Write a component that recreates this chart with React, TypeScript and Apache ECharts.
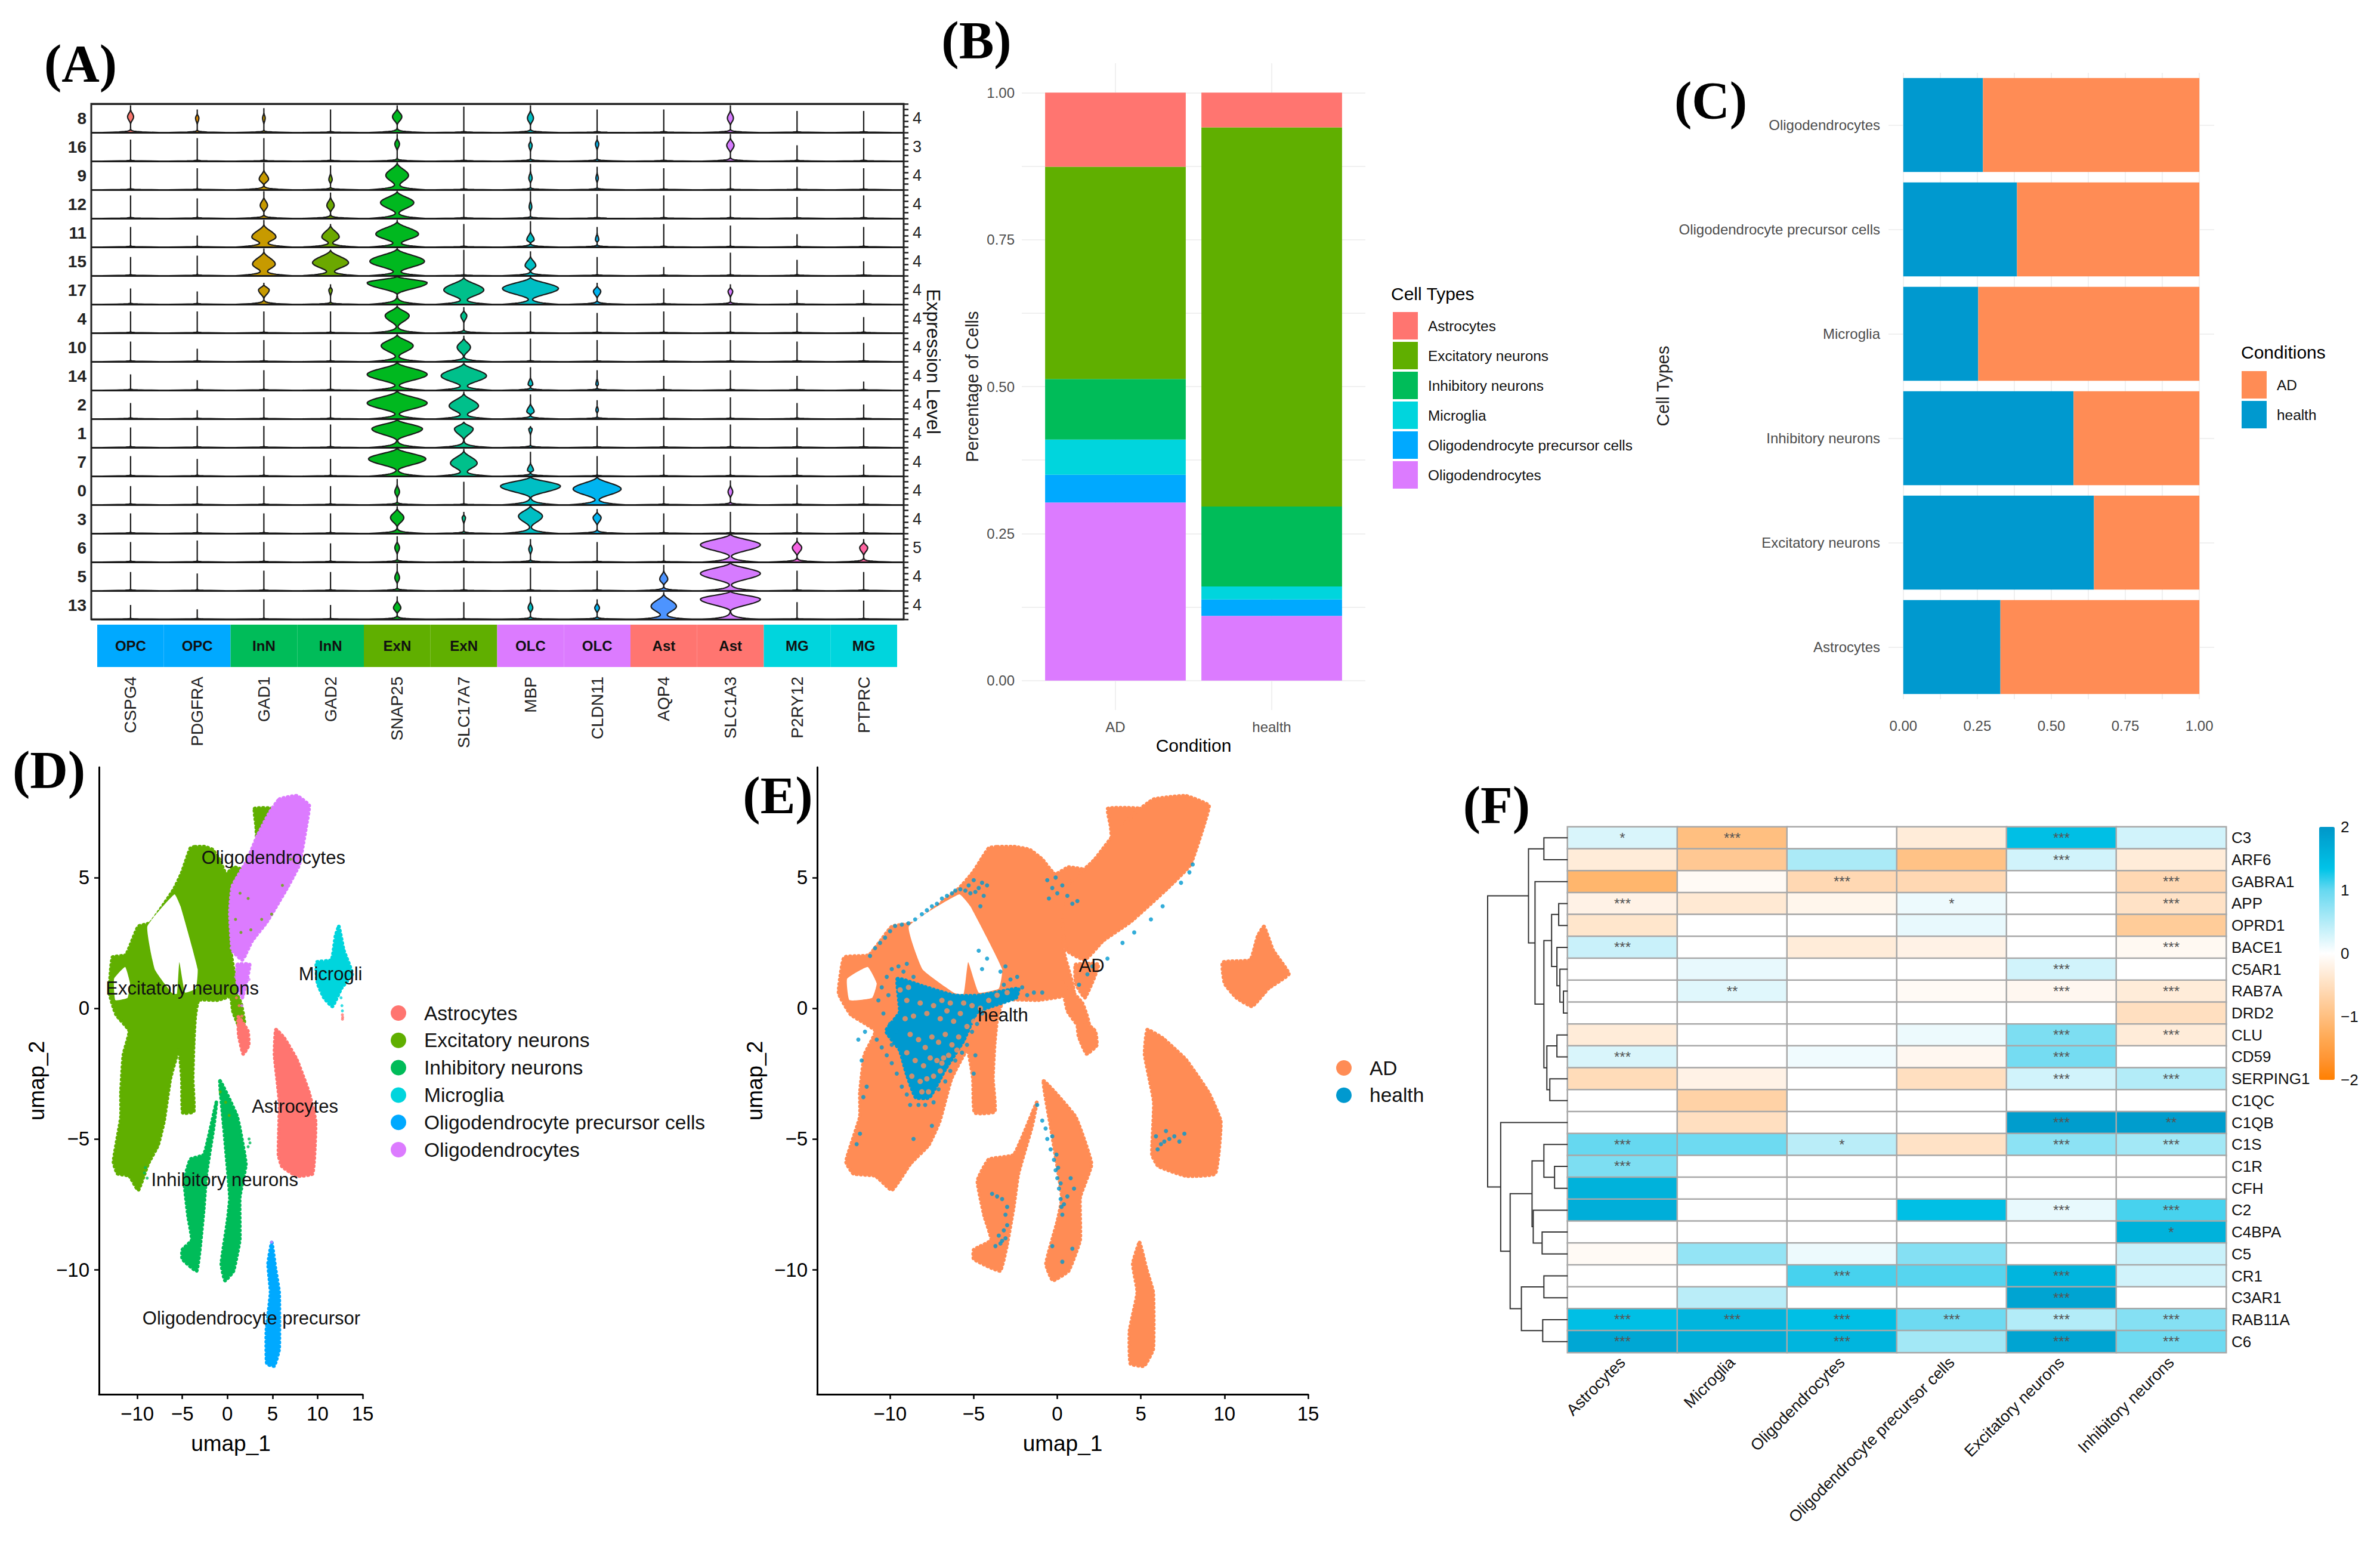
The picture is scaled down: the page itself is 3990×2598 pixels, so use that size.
import React, { useEffect, useRef } from 'react';
import * as echarts from 'echarts';

const SANS = '"Liberation Sans", Arial, sans-serif';
const SERIF = '"Liberation Serif", serif';

// ---------- Panel A ----------
const genes = ['CSPG4', 'PDGFRA', 'GAD1', 'GAD2', 'SNAP25', 'SLC17A7', 'MBP', 'CLDN11', 'AQP4', 'SLC1A3', 'P2RY12', 'PTPRC'];
const geneGroups = ['OPC', 'OPC', 'InN', 'InN', 'ExN', 'ExN', 'OLC', 'OLC', 'Ast', 'Ast', 'MG', 'MG'];
const groupColors: any = { OPC: '#00A9FF', InN: '#00BC59', ExN: '#60AF00', OLC: '#DC7BFF', Ast: '#FF7570', MG: '#00D5DD' };
const geneColors = ['#F8766D', '#DE8C00', '#C79A00', '#6BA800', '#00B81F', '#00C08B', '#00BFC4', '#00B4F0', '#4D94FF', '#D67BFF', '#F564E3', '#FF64A0'];
const clusterLabels = ['8', '16', '9', '12', '11', '15', '17', '4', '10', '14', '2', '1', '7', '0', '3', '6', '5', '13'];
const clusterMaxima = ['4', '3', '4', '4', '4', '4', '4', '4', '4', '4', '4', '4', '4', '4', '4', '5', '4', '4'];
const stemTops = [
  [.95, .8, .85, .8, .95, .9, .95, .8, .8, .95, .75, .75],
  [.75, .8, .8, .85, .95, .85, .85, .9, .85, .95, .55, .8],
  [.8, .75, .95, .85, .95, .8, .9, .8, .75, .8, .8, .75],
  [.8, .7, .95, .9, .95, .85, .95, .85, .8, .8, .75, .8],
  [.7, .4, .95, .8, .95, .8, .9, .7, .8, .75, .45, .7],
  [.65, .7, .95, .9, .95, .9, .85, .65, .3, .8, .55, .5],
  [.55, .45, .75, .7, .98, .95, .95, .75, .55, .7, .5, .5],
  [.75, .75, .75, .75, .95, .9, .75, .7, .75, .75, .7, .55],
  [.7, .45, .75, .75, .95, .9, .8, .75, .75, .75, .7, .65],
  [.55, .35, .7, .8, .98, .95, .8, .7, .5, .7, .5, .3],
  [.55, .3, .75, .8, .98, .95, .85, .65, .75, .75, .55, .5],
  [.7, .75, .75, .8, .98, .9, .75, .75, .75, .8, .7, .7],
  [.7, .6, .7, .6, .98, .95, .85, .7, .75, .7, .65, .4],
  [.65, .65, .65, .65, .9, .8, .98, .98, .65, .85, .7, .65],
  [.7, .7, .7, .7, .95, .75, .98, .85, .7, .75, .7, .7],
  [.7, .75, .7, .65, .9, .8, .8, .7, .6, .98, .85, .8],
  [.65, .6, .7, .65, .95, .8, .8, .7, .9, .98, .7, .65],
  [.5, .35, .7, .5, .8, .6, .8, .7, .95, .98, .6, .65],
];
// [cluster row, gene index, bulge half-width in % of a gene band, bulge position in the row]
const violinBulges = [
  [0, 0, 4.5, .55], [0, 1, 2.5, .5], [0, 2, 2, .5], [0, 4, 7, .55], [0, 6, 4.5, .5], [0, 9, 4.5, .5],
  [1, 4, 3.5, .6], [1, 6, 2.5, .55], [1, 7, 2.5, .6], [1, 9, 5.5, .55],
  [2, 2, 7, .37], [2, 3, 2.5, .35], [2, 4, 17, .5], [2, 6, 2.5, .4], [2, 7, 1.8, .4],
  [3, 2, 5.5, .45], [3, 3, 5.5, .45], [3, 4, 25, .55], [3, 6, 2, .4],
  [4, 2, 18, .35], [4, 3, 13, .35], [4, 4, 32, .45], [4, 6, 5.5, .25], [4, 7, 2.5, .25],
  [5, 2, 17, .4], [5, 3, 27, .45], [5, 4, 41, .5], [5, 6, 8, .35],
  [6, 2, 8, .5], [6, 3, 2.5, .5], [6, 4, 45, .75], [6, 5, 30, .5], [6, 6, 42, .55], [6, 7, 5.5, .45], [6, 9, 3.5, .45],
  [7, 4, 18, .6], [7, 5, 4.5, .6],
  [8, 4, 24, .55], [8, 5, 10, .5],
  [9, 4, 45, .55], [9, 5, 34, .5], [9, 6, 3.5, .2], [9, 7, 1.8, .2],
  [10, 4, 45, .55], [10, 5, 22, .45], [10, 6, 5.5, .25], [10, 7, 1.8, .3],
  [11, 4, 38, .65], [11, 5, 14, .65], [11, 6, 2.5, .65],
  [12, 4, 43, .6], [12, 5, 20, .45], [12, 6, 4.5, .2],
  [13, 4, 3.5, .45], [13, 6, 45, .65], [13, 7, 36, .55], [13, 9, 3.5, .45],
  [14, 4, 10, .55], [14, 5, 2.5, .55], [14, 6, 18, .6], [14, 7, 6, .55],
  [15, 4, 3.5, .5], [15, 6, 2.5, .45], [15, 9, 45, .6], [15, 10, 7, .5], [15, 11, 6, .5],
  [16, 4, 3.5, .45], [16, 8, 6, .4], [16, 9, 45, .6],
  [17, 4, 5.5, .4], [17, 6, 3.5, .4], [17, 7, 3.5, .4], [17, 8, 19, .45], [17, 9, 45, .7],
];

// ---------- Panel B ----------
const conditionsB = ['AD', 'health'];
const oligodendrocyteShare = [.303, .110];
const opcShare = [.047, .028];
const microgliaShare = [.060, .022];
const inhibitoryShare = [.103, .136];
const excitatoryShare = [.361, .645];
const astrocyteShare = [.126, .059];
const cellTypeNames = ['Astrocytes', 'Excitatory neurons', 'Inhibitory neurons', 'Microglia', 'Oligodendrocyte precursor cells', 'Oligodendrocytes'];
const cellTypeColors = ['#FF7570', '#60AF00', '#00BC59', '#00D5DD', '#00A9FF', '#DC7BFF'];

// ---------- Panel C ----------
const cellTypesC = ['Astrocytes', 'Excitatory neurons', 'Inhibitory neurons', 'Microglia', 'Oligodendrocyte precursor cells', 'Oligodendrocytes'];
const healthFraction = [.328, .644, .575, .253, .384, .269];
const adFraction = [.672, .356, .425, .747, .616, .731];
const AD_COLOR = '#FF8C55';
const HEALTH_COLOR = '#0099CF';

// ---------- Panels D and E: cluster outlines read in UMAP coordinates ----------
const excitatoryOutlines = [
  [[-3.57, 6.18], [-2.5, 6.18], [-1.65, 6.07], [-.9, 5.7], [-.14, 5.13], [.68, 5.4], [2.18, 5.22], [.99, 4.67], [.27, 3.49], [.44, 2.04], [.99, .58], [-1.1, .31], [-3.19, .31], [-3.57, -.33], [-3.74, -1.33], [-3.85, -2.69], [-3.74, -3.96], [-4.95, -4], [-5.05, -2.69], [-5.38, -1.6], [-6.32, -2.69], [-7.03, -4.33], [-7.69, -5.24], [-8.79, -5.96], [-9.89, -6.96], [-10.88, -6.42], [-12.2, -6.33], [-12.64, -5.87], [-11.81, -4.15], [-11.81, -3.24], [-11.54, -1.78], [-10.88, -.87], [-12.36, -.24], [-13.08, .58], [-12.75, 1.95], [-11.26, 2.04], [-9.89, 3.13], [-8.52, 3.27], [-5.93, 4.56], [-5.05, 5.2], [-4.1, 6.13]],
  [[.3, 1], [1.5, .2], [1.9, -.6], [1.3, -.7], [.6, -.1]],
  [[3.02, 7.64], [4.95, 7.64], [4.67, 7.22], [3.3, 6.4], [3.19, 6.95]],
];
const outlineHoles = [
  [[-8.88, 3.13], [-5.87, 4.36], [-5.2, 3.9], [-3.3, 1.5], [-3.5, .75], [-4.7, .6], [-5.33, 1.76], [-5.6, .55], [-6.15, .58], [-8.06, 1.49]],
  [[-12.57, 1.13], [-11.34, 1.58], [-10.8, .95], [-11.07, .4], [-12.43, .31]],
];
const oligodendrocyteOutlines = [
  [[5.77, 8], [7.69, 8.13], [9.07, 7.76], [8.79, 7.04], [7.97, 5.49], [6.59, 4.58], [4.4, 3.31], [2.75, 2.58], [1.65, 1.85], [.55, 2.22], [.27, 3.67], [.55, 4.67], [2.2, 5.67], [3.3, 6.58], [4.67, 7.49]],
  [[1.1, 1.67], [2.47, 1.67], [1.65, .4], [1.1, .95]],
];
const microgliaOutlines = [
  [[12.36, 3.13], [12.91, 2.22], [13.85, 1.31], [12.64, .76], [11.65, .07], [10.71, .4], [10, .95], [9.89, 1.76], [11.54, 1.85], [11.98, 2.76]],
];
const astrocyteOutlines = [
  [[5.38, -.82], [6.32, -1.15], [7.69, -1.96], [9.07, -3.24], [9.78, -4.33], [9.45, -6.33], [7.69, -6.42], [6.04, -6.05], [5.66, -5.6], [5.77, -3.6], [5.22, -1.78]],
  [[1.21, -.33], [2.27, -.87], [2.36, -1.42], [1.75, -1.75], [1.26, -1.05]],
];
const inhibitoryOutlines = [
  [[-.82, -2.78], [1.09, -4.15], [2.05, -5.96], [1.37, -7.24], [1.37, -8.87], [.68, -10.05], [-.27, -10.42], [-.68, -9.78], [0, -8.15], [.27, -7.24], [-.41, -4.5]],
  [[-1.23, -3.6], [-2.6, -5.6], [-4.1, -5.78], [-4.78, -6.6], [-4.37, -7.96], [-3.96, -8.87], [-5, -9.24], [-5, -9.6], [-3.42, -10.05], [-3, -9.05], [-2.6, -7.6], [-2.32, -6.33], [-1.5, -4.5]],
];
const opcOutlines = [
  [[4.92, -8.96], [5.33, -9.96], [5.74, -10.87], [5.74, -13.05], [5.19, -13.69], [4.37, -13.6], [4.32, -12.33], [4.78, -10.87], [4.51, -9.78]],
];
const healthCloudOutlines = [
  [[-9.56, 1.13], [-8.06, .85], [-6.15, .49], [-4.64, .49], [-2.32, .76], [-2.46, .4], [-4.78, -.15], [-5.6, -1.24], [-6.69, -2.33], [-7.65, -3.42], [-8.47, -3.42], [-9.02, -2.51], [-9.43, -1.6], [-10.25, -.87], [-9.43, -.15]],
];
const healthPoints = [
  [-11.2, 2], [-10.9, 2.3], [-10.6, 2.5], [-10.3, 2.7], [-10, 2.95], [-9.7, 3.15], [-9.3, 3.2], [-8.9, 3.25], [-8.5, 3.4], [-8.1, 3.6], [-7.8, 3.75], [-7.5, 3.9], [-7.2, 4], [-6.9, 4.2], [-6.6, 4.3], [-6.3, 4.4], [-6.1, 4.5], [-5.8, 4.55], [-5.5, 4.5], [-5.2, 4.4], [-4.9, 4.45], [-4.5, 4.8],
  [-1.2, -3.7], [-.9, -4.3], [-.7, -4.6], [-.6, -5], [-.4, -5.4], [-.2, -5.8], [-.1, -6.2], [0, -6.5], [.1, -6.9], [.2, -7.3], [.25, -7.6], [.3, -7.9], [-.3, -4.9], [-.05, -5.6], [.05, -6.1], [.2, -6.7], [.4, -7.5],
  [-3.2, -8.5], [-3.1, -8.8], [-3.3, -8.9], [-3.4, -9], [-3.5, -8.7], [-3, -8.3], [-3.7, -9.1], [-3.9, -7.1], [-3.6, -7.2], [-3.3, -7.3], [-3, -7.6], [-3.1, -7.9],
  [5.9, -4.9], [6.2, -5.2], [6.4, -5.1], [6.7, -5], [7, -4.9], [7.3, -5.1], [7.6, -4.8], [6, -5.4], [6.5, -4.7],
  [-.6, 4.9], [-.3, 4.6], [0, 4.4], [.3, 4.7], [-.5, 4.2], [.6, 4.3], [-.1, 5], [.9, 4], [1.2, 4.1],
  [-5, 4.9], [-4.7, 4.6], [-4.4, 4.3], [-4.2, 4.7], [-5.3, 4.7], [-4.6, 3.9],
  [7.9, 5.2], [8.1, 5.5], [7.4, 4.8], [6.3, 3.9], [5.6, 3.4], [4.6, 2.9], [3.9, 2.5], [3, 1.9], [2.1, 1.6], [1.8, 1.3], [1.3, .9],
  [-3.2, .9], [-2.8, 1.1], [-2.4, 1.2], [-2.1, .8], [-3, .4], [-2.6, .6], [-1.8, .5], [-1.4, .6], [-.9, .6], [-3.4, 1.4], [-3.1, 1.6], [-4.2, 1.9], [-4.7, 2.2], [-4.5, 1.5],
  [-11.7, -2], [-11.4, -3], [-11.6, -3.4], [-12, -5.2], [-11.8, -4.8], [-11.9, -1.2], [-11.5, -.9], [-8.6, -5], [-7.5, -4.5], [.8, -6.5], [1, -6.9], [.6, -7.2], [-.3, -9.1], [.3, -9.7], [.9, -9.2],
  [-10.7, .3], [-10.4, -.2], [-10.5, .8], [-10.1, .5], [-10.2, 1.2], [-9.9, 1.5], [-9.5, 1.6], [-9.2, 1.4], [-9, 1.7], [-8.6, 1.2], [-10.8, -1.2], [-10.5, -1.5], [-10.2, -1.8], [-9.9, -1.4], [-9.9, -2.1], [-9.6, -2.5], [-9.3, -3], [-9, -3.3], [-8.8, -3.7], [-8.3, -3.7], [-7.9, -3.7], [-7.4, -3.6], [-7.1, -3.1], [-6.7, -2.8], [-6.4, -2.4], [-6.1, -2], [-5.7, -1.7], [-5.4, -1.4], [-5.1, -.9], [-4.8, -.6], [-4.5, -.2], [-4.2, .1], [-9.6, -.9], [-10, -.6], [-4.9, -1.8], [-5, -2.5],
];
const adSpecksInCloud = [
  [-9, .3], [-8.6, -.3], [-8.2, .2], [-7.8, -.2], [-7.4, .1], [-7, -.4], [-6.6, -.1], [-6.2, -.5], [-5.8, -.2], [-5.4, -.7], [-5, -.5], [-8.8, -1], [-8.3, -1.2], [-7.9, -1.5], [-7.5, -1.1], [-7.1, -1.3], [-6.7, -1], [-6.3, -1.4], [-5.9, -1.1], [-8.5, -2], [-8, -2.2], [-7.6, -1.9], [-7.2, -2], [-6.8, -1.9], [-8.2, -2.8], [-7.8, -2.7], [-7.4, -2.6], [-7, -2.4],
  [-9.4, .7], [-8.9, .8], [-6.9, .3], [-6.4, .2], [-5.6, .2], [-5.1, .1], [-4.6, 0], [-9.1, -.4], [-9, -1.7], [-8.7, -2.6], [-8.1, -3.2], [-7.7, -3.2], [-6.9, -2.1], [-6.5, -1.8], [-6, -1.6], [-4.1, .3], [-3.6, .5], [-3, .6],
];
const microgliaTailPoints = [[12.6, .4], [12.7, .1], [12.75, -.1]];
const astrocyteStrayPoints = [[12.75, -.25], [12.78, -.35], [12.76, -.42], [1.3, .1], [1, .4], [1.6, -.3]];
const oligodendrocyteStrayPoints = [[1.1, .6], [1.6, .1], [2.4, 1.1], [.9, 1.2], [1.3, 1.4], [2, 2], [4.9, -8.95], [.4, 2.3]];
const excitatoryStrayPoints = [[1.5, 2.9], [2.6, 3], [3.8, 3.4], [4.9, 3.6], [6.1, 4.7], [.9, 3.4], [1.4, 4.4], [2.3, 4.2], [7, 5.7], [-.8, -3.2], [.2, -4.1], [-.2, -3.6]];
const inhibitoryStrayPoints = [[2.4, -5], [2.5, -5.15], [2.3, -5.3], [-9.1, -6.1], [-9.2, -6.3], [-8.9, -6.5]];
const clusterLabelsD = [['Oligodendrocytes', 5.1, 5.76], ['Excitatory neurons', -5, .76], ['Microglia', 12, 1.31], ['Astrocytes', 7.5, -3.75], ['Inhibitory neurons', -.3, -6.56], ['Oligodendrocyte precursor cells', 5, -11.87]];
const conditionLabelsE = [['AD', 2.05, 1.62], ['health', -3.25, -.27]];
const umapXTicks = [-10, -5, 0, 5, 10, 15];
const umapYTicks = [-10, -5, 0, 5];

// ---------- Panel F ----------
const heatGenes = ['C3', 'ARF6', 'GABRA1', 'APP', 'OPRD1', 'BACE1', 'C5AR1', 'RAB7A', 'DRD2', 'CLU', 'CD59', 'SERPING1', 'C1QC', 'C1QB', 'C1S', 'C1R', 'CFH', 'C2', 'C4BPA', 'C5', 'CR1', 'C3AR1', 'RAB11A', 'C6'];
const heatCells = ['Astrocytes', 'Microglia', 'Oligodendrocytes', 'Oligodendrocyte precursor cells', 'Excitatory neurons', 'Inhibitory neurons'];
const heatValues = [
  [.25, -1, 0, -.3, 1.4, .3], [-.3, -.85, .55, -.95, .3, -.3], [-1.15, -.08, -.6, -.6, 0, -.6], [-.2, -.35, -.15, .12, 0, -.45],
  [-.4, 0, 0, .15, 0, -.8], [.35, 0, -.3, -.2, 0, -.1], [0, .15, 0, 0, .3, 0], [0, .2, 0, -.08, -.12, -.3],
  [0, 0, 0, 0, 0, -.5], [-.3, 0, 0, .12, .85, -.3], [.25, 0, .1, -.12, .9, 0], [-.55, -.2, 0, -.5, .3, .5],
  [0, -.7, 0, 0, 0, 0], [0, -.5, 0, 0, 1.9, 1.9], [1, .95, .45, -.45, .75, .6], [.85, 0, 0, 0, 0, 0],
  [1.6, 0, 0, 0, 0, 0], [1.65, 0, 0, 1.4, .15, 1.1], [0, 0, 0, 0, 0, 1.6], [-.08, .7, .12, .8, 0, .35],
  [0, 0, 1.1, 1.05, 1.55, .3], [0, .45, 0, 0, 1.8, 0], [1.4, 1.55, 1.4, .95, .5, .8], [1.75, 1.65, 1.55, .6, 1.8, .95],
];
const heatStars = [
  ['*', '***', '', '', '***', ''], ['', '', '', '', '***', ''], ['', '', '***', '', '', '***'], ['***', '', '', '*', '', '***'],
  ['', '', '', '', '', ''], ['***', '', '', '', '', '***'], ['', '', '', '', '***', ''], ['', '**', '', '', '***', '***'],
  ['', '', '', '', '', ''], ['', '', '', '', '***', '***'], ['***', '', '', '', '***', ''], ['', '', '', '', '***', '***'],
  ['', '', '', '', '', ''], ['', '', '', '', '***', '**'], ['***', '', '*', '', '***', '***'], ['***', '', '', '', '', ''],
  ['', '', '', '', '', ''], ['', '', '', '', '***', '***'], ['', '', '', '', '', '*'], ['', '', '', '', '', ''],
  ['', '', '***', '', '***', ''], ['', '', '', '', '***', ''], ['***', '***', '***', '***', '***', '***'], ['***', '', '***', '', '***', '***'],
];
// [left child, right child, height]; a child >= 100 is the earlier merge number (child - 100)
const dendrogramMerges = [
  [3, 4, 15], [7, 8, 7], [6, 101, 13], [5, 102, 18], [100, 103, 27], [9, 10, 18], [11, 12, 30], [105, 106, 35], [104, 107, 40], [2, 108, 55], [0, 1, 40], [110, 109, 66],
  [15, 16, 22], [14, 112, 40], [18, 19, 43], [17, 114, 58], [113, 115, 60], [20, 21, 40], [22, 23, 42], [117, 118, 78], [116, 119, 97], [13, 120, 113], [111, 121, 135],
];
const colorBarStops = ['#FF7F00', '#FF9533', '#FFAA55', '#FFBF80', '#FFD4AA', '#FFEAD5', '#FFFFFF', '#CCF2FA', '#99E5F5', '#66D8F0', '#00C4E8', '#00ADD8', '#0096C8'];
const panelLetters = [['(A)', 135, 106], ['(B)', 1637, 67], ['(C)', 2868, 168], ['(D)', 82, 1290], ['(E)', 1304, 1333], ['(F)', 2509, 1349]];

const GRID_TEXT = '#4D4D4D';
const GRID_LINE = '#F0F0F0';
const eighths = [0, .125, .25, .375, .5, .625, .75, .875, 1];
const quarters = [0, .25, .5, .75, 1];
const minus = (v: number) => String(v).replace('-', '\u2212');

const violinItem = (params: any, api: any) => {
  const gene = api.value(0), row = api.value(1), top = api.value(2), bulge = api.value(3) / 100, at = api.value(4);
  const c = api.coord([gene, row]);
  const s = api.size([1, 1]);
  const bottom = c[1] + s[1] / 2;
  const left: number[][] = [], right: number[][] = [];
  const steps = [0, .01, .02, .035, .05, .065, .08, .1, .125, .15, .175, .2, .225, .25, .275, .3, .325, .35, .375, .4, .425, .45, .475, .5, .525, .55, .575, .6, .625, .65, .675, .7, .725, .75, .775, .8, .825, .85, .875, .9, .925, .95, .975, 1];
  const scale = Math.min(1, .5 + bulge / .3);
  const up = Math.min(.45, top - at) * scale;
  const down = Math.min(.42, at - .07) * scale;
  const flareH = .008 + Math.min(.05, bulge * .3);
  for (const k of steps) {
    const t = k * top;
    let body = 0;
    if (bulge) {
      const span = t > at ? up : down;
      const d = Math.abs(t - at) / span;
      if (d < 1) {
        const q = Math.cos(d * Math.PI / 2);
        body = bulge * q * q;
      }
    }
    const w = s[0] * (.42 * Math.exp(-t / flareH) + body);
    const y = bottom - t * s[1];
    left.push([c[0] - w, y]);
    right.unshift([c[0] + w, y]);
  }
  return { type: 'polygon', shape: { points: left.concat(right) }, style: { fill: geneColors[gene], stroke: '#1a1a1a', lineWidth: 2.2 } };
};

const polygonSeries = (name: string, polys: number[][][], color: string, xi: number, dotted = true) => ({
  type: 'custom', name, coordinateSystem: 'cartesian2d', xAxisIndex: xi, yAxisIndex: xi, silent: true,
  itemStyle: { color },
  data: polys.map((p, i) => [p[0][0], p[0][1], i]),
  renderItem: (params: any, api: any) => ({
    type: 'polygon',
    shape: { points: polys[api.value(2)].map((q) => api.coord(q)), smooth: .12 },
    style: dotted ? { fill: color, stroke: color, lineWidth: 6, lineDash: [1, 6], lineCap: 'round' } : { fill: color },
  }),
});

const dotSeries = (name: string, pts: number[][], color: string, xi: number, size = 5) => ({
  type: 'scatter', name, xAxisIndex: xi, yAxisIndex: xi, symbolSize: size, silent: true,
  itemStyle: { color }, data: pts,
});

const textSeries = (labels: any[], xi: number) => ({
  type: 'custom', name: 'labels', coordinateSystem: 'cartesian2d', xAxisIndex: xi, yAxisIndex: xi, silent: true, z: 20,
  data: labels.map((l, i) => [l[1], l[2], i]),
  renderItem: (params: any, api: any) => {
    const p = api.coord([api.value(0), api.value(1)]);
    const cs = params.coordSys;
    return {
      type: 'text', x: p[0], y: p[1],
      style: { text: labels[api.value(2)][0], align: 'center', verticalAlign: 'middle', textAlign: 'center', textVerticalAlign: 'middle', fontSize: 31, fontFamily: SANS, fill: '#111' },
      clipPath: { type: 'rect', shape: { x: cs.x - p[0], y: cs.y - p[1], width: cs.width, height: cs.height } },
    };
  },
});

const umapX = (gi: number, min: number) => ({
  type: 'value', gridIndex: gi, min, max: 15, name: 'umap_1', nameLocation: 'middle', nameGap: 64,
  nameTextStyle: { fontFamily: SANS, fontSize: 37, color: '#000' },
  axisLine: { onZero: false, lineStyle: { color: '#000', width: 3 } },
  axisTick: { customValues: umapXTicks, length: 8, lineStyle: { color: '#000', width: 2.5 } },
  axisLabel: { customValues: umapXTicks, formatter: minus, margin: 16, fontFamily: SANS, fontSize: 33, color: '#000' },
  splitLine: { show: false },
});
const umapY = (gi: number) => ({
  type: 'value', gridIndex: gi, min: -14.77, max: 9.22, name: 'umap_2', nameLocation: 'middle', nameGap: 86,
  nameTextStyle: { fontFamily: SANS, fontSize: 37, color: '#000' },
  axisLine: { onZero: false, lineStyle: { color: '#000', width: 3 } },
  axisTick: { customValues: umapYTicks, length: 8, lineStyle: { color: '#000', width: 2.5 } },
  axisLabel: { customValues: umapYTicks, formatter: minus, margin: 16, fontFamily: SANS, fontSize: 33, color: '#000' },
  splitLine: { show: false },
});

function buildOption() {
  const grids: any[] = [
    { left: 153, top: 174, width: 1362, height: 864, show: true, borderColor: '#222', borderWidth: 3 }, // 0 violin
    { left: 163, top: 1047, width: 1341, height: 71 }, // 1 strip
    { left: 1713, top: 106, width: 576, height: 1084 }, // 2 B back
    { left: 1739, top: 106, width: 524, height: 1084 }, // 3 B bars
    { left: 3166, top: 122, width: 546, height: 1050 }, // 4 C
    { left: 166, top: 1286, width: 442, height: 1051 }, // 5 D
    { left: 1370, top: 1286, width: 823, height: 1051 }, // 6 E
    { left: 2628, top: 1386, width: 1104, height: 881 }, // 7 heat
    { left: 2494, top: 1386, width: 134, height: 881 }, // 8 dendrogram
    { left: 3914, top: 1386, width: 2, height: 424 }, // 9 colour bar axis
  ];
  const hiddenValueX = (gi: number, min: number, max: number, inverse = false) => ({ type: 'value', gridIndex: gi, min, max, inverse, show: false });

  const xAxis: any[] = [
    hiddenValueX(0, -.59, 11.6),
    {
      type: 'category', gridIndex: 1, data: genes, axisLine: { show: false }, axisTick: { show: false },
      axisLabel: { interval: 0, rotate: 90, margin: 16, fontFamily: SANS, fontSize: 28, color: '#222' },
    },
    hiddenValueX(2, 0, 1),
    {
      type: 'category', gridIndex: 3, data: conditionsB, name: 'Condition', nameLocation: 'middle', nameGap: 44,
      nameTextStyle: { fontFamily: SANS, fontSize: 30, color: '#000' },
      axisLine: { show: false }, axisTick: { show: false, alignWithLabel: true },
      axisLabel: { margin: 16, fontFamily: SANS, fontSize: 24, color: GRID_TEXT },
      splitLine: { show: true, alignWithLabel: true, lineStyle: { color: GRID_LINE, width: 2 } },
    },
    {
      type: 'value', gridIndex: 4, min: -.05, max: 1.05,
      axisLine: { show: false }, axisTick: { show: false, customValues: eighths },
      axisLabel: { customValues: quarters, formatter: (v: number) => v.toFixed(2), margin: 32, fontFamily: SANS, fontSize: 24, color: GRID_TEXT },
      splitLine: { show: true, lineStyle: { color: GRID_LINE, width: 2 } },
    },
    umapX(5, -14.24), umapX(6, -14.36),
    {
      type: 'category', gridIndex: 7, data: heatCells, axisLine: { show: false }, axisTick: { show: false },
      axisLabel: { interval: 0, rotate: 45, margin: 12, fontFamily: SANS, fontSize: 27, color: '#111' }, splitLine: { show: false },
    },
    hiddenValueX(8, 0, 135, true),
    hiddenValueX(9, 0, 1),
  ];
  const yAxis: any[] = [
    {
      type: 'category', gridIndex: 0, data: clusterLabels, inverse: true, axisLine: { show: false }, axisTick: { show: false },
      axisLabel: { interval: 0, margin: 8, fontFamily: SANS, fontWeight: 'bold', fontSize: 28, color: '#222' },
      splitLine: { show: true, interval: 0, lineStyle: { color: '#222', width: 3 } },
    },
    { type: 'value', gridIndex: 1, min: 0, max: 1, show: false },
    {
      type: 'value', gridIndex: 2, min: -.05, max: 1.05, name: 'Percentage of Cells', nameLocation: 'middle', nameGap: 69,
      nameTextStyle: { fontFamily: SANS, fontSize: 29, color: '#222' },
      axisLine: { show: false }, axisTick: { show: false, customValues: eighths },
      axisLabel: { customValues: quarters, formatter: (v: number) => v.toFixed(2), margin: 12, fontFamily: SANS, fontSize: 24, color: GRID_TEXT },
      splitLine: { show: true, lineStyle: { color: GRID_LINE, width: 2 } },
    },
    { type: 'value', gridIndex: 3, min: -.05, max: 1.05, show: false },
    {
      type: 'category', gridIndex: 4, data: cellTypesC, name: 'Cell Types', nameLocation: 'middle', nameGap: 364,
      nameTextStyle: { fontFamily: SANS, fontSize: 29, color: '#222' },
      axisLine: { show: false }, axisTick: { show: false, alignWithLabel: true },
      axisLabel: { interval: 0, margin: 14, fontFamily: SANS, fontSize: 24, color: GRID_TEXT },
      splitLine: { show: true, alignWithLabel: true, lineStyle: { color: GRID_LINE, width: 2 } },
    },
    umapY(5), umapY(6),
    {
      type: 'category', gridIndex: 7, data: heatGenes, inverse: true, position: 'right', axisLine: { show: false }, axisTick: { show: false },
      axisLabel: { interval: 0, margin: 9, fontFamily: SANS, fontSize: 26, color: '#111' }, splitLine: { show: false },
    },
    { type: 'value', gridIndex: 8, min: 0, max: 24, inverse: true, show: false },
    {
      type: 'value', gridIndex: 9, min: -2, max: 2, interval: 1, position: 'right', axisLine: { show: false }, axisTick: { show: false },
      axisLabel: { margin: 8, formatter: minus, fontFamily: SANS, fontSize: 26, color: '#111' }, splitLine: { show: false },
    },
    {
      type: 'category', gridIndex: 0, data: clusterMaxima, inverse: true, position: 'right', axisLine: { show: false }, axisTick: { show: false },
      name: 'Expression Level', nameLocation: 'middle', nameRotate: -90, nameGap: 31,
      nameTextStyle: { fontFamily: SANS, fontSize: 32, color: '#111' },
      axisLabel: { interval: 0, margin: 15, padding: [0, 0, 30, 0], fontFamily: SANS, fontSize: 27, color: '#222' }, splitLine: { show: false },
    },
    {
      type: 'value', gridIndex: 0, min: 0, max: 90, interval: 1, position: 'right', axisLine: { show: false }, axisLabel: { show: false }, splitLine: { show: false },
      axisTick: { show: true, length: 8, lineStyle: { color: '#222', width: 2.5 } },
    },
  ];

  const series: any[] = [];
  // A
  const violinData: number[][] = [];
  stemTops.forEach((row, r) => row.forEach((top, g) => {
    const b = violinBulges.find((v) => v[0] === r && v[1] === g);
    violinData.push([g, r, top, b ? b[2] : 0, b ? b[3] : 0]);
  }));
  series.push({ type: 'custom', name: 'violins', coordinateSystem: 'cartesian2d', xAxisIndex: 0, yAxisIndex: 0, silent: true, encode: { x: 0, y: 1 }, data: violinData, renderItem: violinItem, clip: true });
  series.push({
    type: 'bar', name: 'markers', xAxisIndex: 1, yAxisIndex: 1, barWidth: '100%', silent: true,
    data: geneGroups.map((g) => ({ value: 1, name: g, itemStyle: { color: groupColors[g] } })),
    label: { show: true, position: 'inside', formatter: (p: any) => p.name, fontFamily: SANS, fontWeight: 'bold', fontSize: 24, color: '#111' },
  });
  // B
  const bStack: [string, number[], string][] = [
    ['Oligodendrocytes', oligodendrocyteShare, cellTypeColors[5]],
    ['Oligodendrocyte precursor cells', opcShare, cellTypeColors[4]],
    ['Microglia', microgliaShare, cellTypeColors[3]],
    ['Inhibitory neurons', inhibitoryShare, cellTypeColors[2]],
    ['Excitatory neurons', excitatoryShare, cellTypeColors[1]],
    ['Astrocytes', astrocyteShare, cellTypeColors[0]],
  ];
  bStack.forEach(([name, values, color]) => series.push({
    type: 'bar', name, xAxisIndex: 3, yAxisIndex: 3, stack: 'share', barWidth: '90%', silent: true, itemStyle: { color }, data: values,
  }));
  // C
  series.push({ type: 'bar', name: 'health', xAxisIndex: 4, yAxisIndex: 4, stack: 'cond', barWidth: '90%', silent: true, itemStyle: { color: HEALTH_COLOR }, data: healthFraction });
  series.push({ type: 'bar', name: 'AD', xAxisIndex: 4, yAxisIndex: 4, stack: 'cond', barWidth: '90%', silent: true, itemStyle: { color: AD_COLOR }, data: adFraction });
  // D
  series.push(polygonSeries('Excitatory neurons', excitatoryOutlines, cellTypeColors[1], 5));
  series.push(polygonSeries('holes', outlineHoles, '#fff', 5, false));
  series.push(polygonSeries('Astrocytes', astrocyteOutlines, cellTypeColors[0], 5));
  series.push(polygonSeries('Inhibitory neurons', inhibitoryOutlines, cellTypeColors[2], 5));
  series.push(polygonSeries('Microglia', microgliaOutlines, cellTypeColors[3], 5));
  series.push(polygonSeries('Oligodendrocyte precursor cells', opcOutlines, cellTypeColors[4], 5));
  series.push(polygonSeries('Oligodendrocytes', oligodendrocyteOutlines, cellTypeColors[5], 5));
  series.push(dotSeries('Microglia', microgliaTailPoints, cellTypeColors[3], 5));
  series.push(dotSeries('Astrocytes', astrocyteStrayPoints, cellTypeColors[0], 5));
  series.push(dotSeries('Oligodendrocytes', oligodendrocyteStrayPoints, cellTypeColors[5], 5));
  series.push(dotSeries('Excitatory neurons', excitatoryStrayPoints, cellTypeColors[1], 5));
  series.push(dotSeries('Inhibitory neurons', inhibitoryStrayPoints, cellTypeColors[2], 5));
  series.push(textSeries(clusterLabelsD, 5));
  // E
  const allOutlines = [...excitatoryOutlines, ...oligodendrocyteOutlines, ...microgliaOutlines, ...astrocyteOutlines, ...inhibitoryOutlines, ...opcOutlines];
  series.push(polygonSeries('AD', allOutlines, AD_COLOR, 6));
  series.push(polygonSeries('holes', outlineHoles, '#fff', 6, false));
  series.push(polygonSeries('health', healthCloudOutlines, HEALTH_COLOR, 6));
  series.push(dotSeries('AD', adSpecksInCloud, AD_COLOR, 6, 9));
  series.push(dotSeries('health', healthPoints, HEALTH_COLOR, 6, 7));
  series.push(textSeries(conditionLabelsE, 6));
  // F
  const heatData: any[] = [];
  heatValues.forEach((row, r) => row.forEach((v, c) => heatData.push([c, r, v, heatStars[r][c]])));
  const heatIndex = series.length;
  series.push({
    type: 'heatmap', name: 'heat', xAxisIndex: 7, yAxisIndex: 7, silent: true, data: heatData,
    itemStyle: { borderColor: '#A8A8A8', borderWidth: 2.5 },
    label: { show: true, formatter: (p: any) => p.data[3], fontFamily: SANS, fontSize: 24, color: '#555' },
  });
  // dendrogram
  const nodeRow = (id: number): number => {
    if (id < 100) return id + .5;
    const m = dendrogramMerges[id - 100];
    return (nodeRow(m[0]) + nodeRow(m[1])) / 2;
  };
  const nodeHeight = (id: number) => (id < 100 ? 0 : dendrogramMerges[id - 100][2]);
  series.push({
    type: 'custom', name: 'dendrogram', coordinateSystem: 'cartesian2d', xAxisIndex: 8, yAxisIndex: 8, silent: true,
    data: dendrogramMerges.map((m, i) => [m[2], nodeRow(100 + i), i]),
    renderItem: (params: any, api: any) => {
      const m = dendrogramMerges[api.value(2)];
      const ra = nodeRow(m[0]), rb = nodeRow(m[1]);
      const pts = [[nodeHeight(m[0]), ra], [m[2], ra], [m[2], rb], [nodeHeight(m[1]), rb]].map((q) => api.coord(q));
      return { type: 'polyline', shape: { points: pts }, style: { stroke: '#333', lineWidth: 2, fill: 'none' } };
    },
  });

  const legendBase = { orient: 'vertical', padding: 0, selectedMode: false, icon: 'rect', inactiveColor: '#ccc' };
  const legends: any[] = [
    { ...legendBase, left: 2335, top: 523, itemWidth: 42, itemHeight: 46, itemGap: 4, data: cellTypeNames, textStyle: { fontFamily: SANS, fontSize: 24.4, color: '#111', padding: [0, 0, 0, 12] } },
    { ...legendBase, left: 3758, top: 622, itemWidth: 42, itemHeight: 46, itemGap: 4, data: ['AD', 'health'], textStyle: { fontFamily: SANS, fontSize: 24.4, color: '#111', padding: [0, 0, 0, 12] } },
    { ...legendBase, icon: 'circle', left: 655, top: 1681, itemWidth: 26, itemHeight: 26, itemGap: 11.8, data: cellTypeNames, textStyle: { fontFamily: SANS, fontSize: 33.5, color: '#111', padding: [0, 0, 0, 25] } },
    { ...legendBase, icon: 'circle', left: 2240, top: 1773, itemWidth: 26, itemHeight: 26, itemGap: 11.8, data: ['AD', 'health'], textStyle: { fontFamily: SANS, fontSize: 33.5, color: '#111', padding: [0, 0, 0, 25] } },
  ];

  const graphic: any[] = panelLetters.map((l) => ({
    type: 'text', x: l[1], y: l[2], silent: true,
    style: { text: l[0], align: 'center', verticalAlign: 'middle', textAlign: 'center', textVerticalAlign: 'middle', fontFamily: SERIF, fontWeight: 'bold', fontSize: 88, fill: '#000' },
  }));
  graphic.push({ type: 'text', x: 2332, y: 492, silent: true, style: { text: 'Cell Types', verticalAlign: 'middle', textVerticalAlign: 'middle', fontFamily: SANS, fontSize: 30, fill: '#000' } });
  graphic.push({ type: 'text', x: 3757, y: 590, silent: true, style: { text: 'Conditions', verticalAlign: 'middle', textVerticalAlign: 'middle', fontFamily: SANS, fontSize: 30, fill: '#000' } });

  return {
    animation: false,
    backgroundColor: '#fff',
    grid: grids,
    xAxis,
    yAxis,
    series,
    legend: legends,
    graphic,
    visualMap: {
      type: 'continuous', seriesIndex: heatIndex, dimension: 2, min: -2, max: 2, show: true, calculable: false, hoverLink: false, realtime: false,
      left: 3888, top: 1386, itemWidth: 26, itemHeight: 424, padding: 0, textStyle: { fontSize: 1, color: '#fff' },
      inRange: { color: colorBarStops },
    },
  };
}

export default function App() {
  const ref = useRef<HTMLDivElement>(null);
  useEffect(() => {
    const chart = echarts.init(ref.current as HTMLDivElement, undefined, { renderer: 'svg', width: 3990, height: 2598 });
    chart.setOption(buildOption() as any);
    return () => chart.dispose();
  }, []);
  return <div ref={ref} style={{ position: 'absolute', left: 0, top: 0, width: 3990, height: 2598, background: '#fff' }} />;
}
